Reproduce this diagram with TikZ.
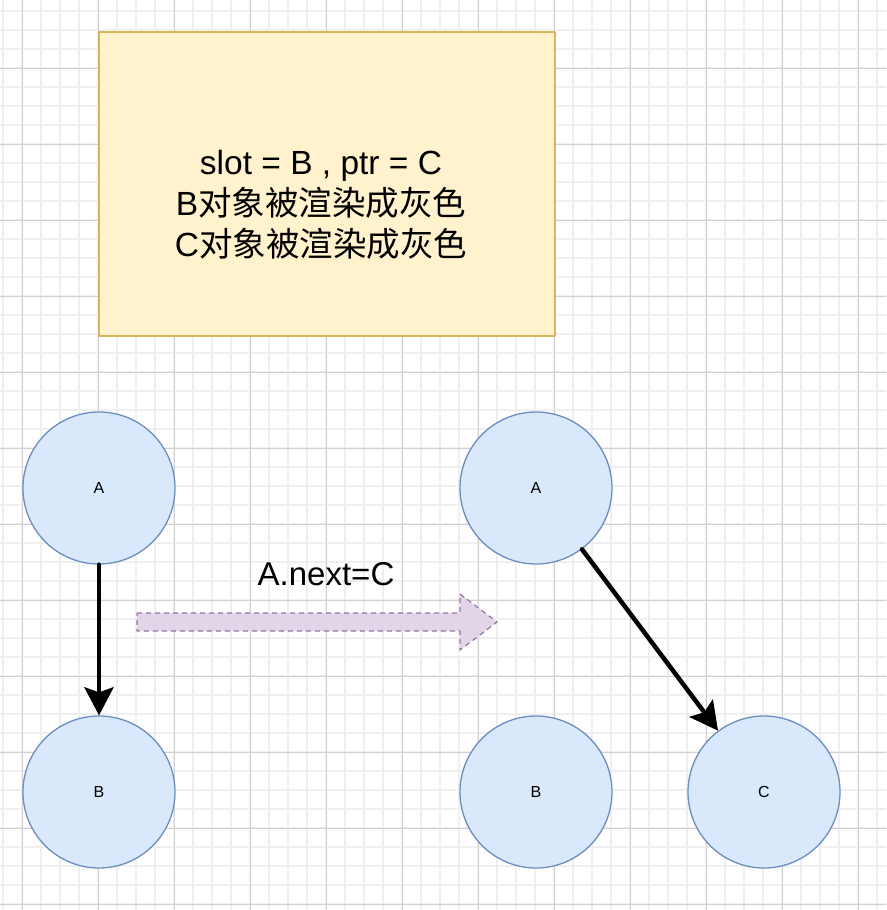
\documentclass[tikz,border=0pt]{standalone}
\usepackage{fontspec}
\setmainfont{Liberation Sans}
\newfontfamily\cjk{Noto Sans CJK SC}
\usetikzlibrary{arrows.meta}

\definecolor{gridminor}{HTML}{EFEFEF}
\definecolor{gridmajor}{HTML}{D0D0D0}
\definecolor{notefill}{HTML}{FFF2CC}
\definecolor{notedraw}{HTML}{D6B656}
\definecolor{objfill}{HTML}{DAE8FC}
\definecolor{objdraw}{HTML}{6C8EBF}
\definecolor{stepfill}{HTML}{E1D5E7}
\definecolor{stepdraw}{HTML}{9673A6}

\tikzset{
  obj/.style={circle,draw=objdraw,fill=objfill,line width=1.3pt,
    minimum size=152pt,inner sep=0pt,font=\fontsize{16}{19}\selectfont},
  ref/.style={line width=4.5pt,-{Stealth[length=28pt,width=29pt,inset=5pt]}}
}

\begin{document}
\begin{tikzpicture}[x=1pt,y=-1pt,line cap=round,line join=round]
\useasboundingbox (0,0) rectangle (886,910);
\fill[white] (0,0) rectangle (886,910);

% background grid
\foreach \x in {3,22,...,886} \draw[gridminor,line width=1.2pt] (\x,0) -- (\x,910);
\foreach \y in {11,30,...,910} \draw[gridminor,line width=1.2pt] (0,\y) -- (886,\y);
\foreach \x in {22,98,...,886} \draw[gridmajor,line width=1pt] (\x,0) -- (\x,910);
\foreach \y in {68,144,...,910} \draw[gridmajor,line width=1pt] (0,\y) -- (886,\y);

% note box
\draw[notedraw,fill=notefill,line width=1.3pt] (99,32) rectangle (555,336);
\node[align=center,font=\fontsize{33.5}{41}\selectfont] (note) at (321,205)
  {slot = B , ptr = C\\B{\cjk 对象被渲染成灰色}\\C{\cjk 对象被渲染成灰色}};

% before
\node[obj] (A1) at (99,488) {A};
\node[obj] (B1) at (99,792) {B};
\draw[ref] (A1) -- (B1);

% step arrow
\draw[stepdraw,fill=stepfill,line width=1.2pt,dash pattern=on 5pt off 4pt,line cap=butt]
  (137,613) -- (460,613) -- (460,594) -- (497,622) -- (460,650)
  -- (460,631) -- (137,631) -- cycle;
\node[font=\fontsize{33}{40}\selectfont] (step label) at (326,574) {A.next=C};

% after
\node[obj] (A2) at (536,488) {A};
\node[obj] (B2) at (536,792) {B};
\node[obj] (C2) at (764,792) {C};
\draw[ref] (A2) -- (C2);

\end{tikzpicture}
\end{document}
